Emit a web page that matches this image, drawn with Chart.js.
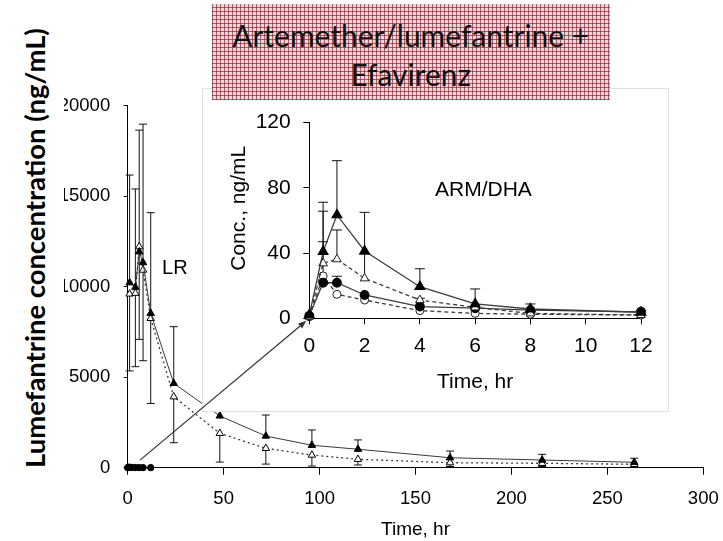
<!DOCTYPE html>
<html><head><meta charset="utf-8">
<script src="https://cdn.jsdelivr.net/npm/chart.js@4.4.1/dist/chart.umd.min.js"></script>
<style>
html,body{margin:0;padding:0;background:#fff;}
#wrap{position:relative;width:723px;height:541px;overflow:hidden;background:#fff;}
#wrap canvas{position:absolute;left:0;top:0;}
#mainC{z-index:1;} #insetC{z-index:2;}
#titleBox{position:absolute;left:211.5px;top:4px;width:398.5px;height:96px;z-index:5;
 background-color:#f1d6da;
 background-image:
  repeating-linear-gradient(0deg, rgba(165,25,50,0.7) 0 1px, transparent 1px 4px),
  repeating-linear-gradient(90deg, rgba(165,25,50,0.7) 0 1px, transparent 1px 4px);
 font-family:Lato,'Open Sans',sans-serif;color:#111;}
.tl{position:absolute;left:0;width:100%;text-align:center;white-space:nowrap;line-height:1;}
#yTitleBox{position:absolute;left:0;top:15px;width:64px;height:465px;background:#fff;z-index:5;}
#yTitle{position:absolute;left:35px;top:233px;white-space:nowrap;line-height:1;font-family:Lato,'Open Sans',sans-serif;font-weight:bold;color:#000;transform:translate(-50%,-50%) rotate(-90deg);}
</style></head>
<body>
<div id="wrap">
  <canvas id="mainC" width="723" height="541"></canvas>
  <canvas id="insetC" width="723" height="541"></canvas>
  <div id="titleBox"><div class="tl" id="tl1">Artemether/lumefantrine +</div><div class="tl" id="tl2">Efavirenz</div></div>
  <div id="yTitleBox"><div id="yTitle">Lumefantrine concentration (ng/mL)</div></div>
</div>
<script>
// ---------------- DATA ----------------
// Main panel: lumefantrine (LR), ng/mL
const lrTimes      = [1, 4, 6, 8, 12, 24, 48, 72, 96, 120, 168, 216, 264];
const lrFilled     = [10220, 9970, 11930, 11330, 8530, 4660, 2860, 1750, 1240, 1020, 550, 425, 300];
const lrFilledSD   = [5950, 5430, 6720, 7650, 5560, 3130, 1600, 1160, 845, 514, 370, 315, 221];
const lrOpen       = [9600, 9640, 12210, 10920, 8250, 3920, 1900, 1070, 700, 464, 276, 243, 188];
const lrOpenSD     = [4250, 4060, 5120, 5010, 4700, 2540, 1590, 870, 610, 315, 210, 177, 110];
const mainXTicks   = [0, 50, 100, 150, 200, 250, 300];
const mainYTicks   = [0, 5000, 10000, 15000, 20000];
// Inset: ARM/DHA, ng/mL
const armTimes       = [0, 0.5, 1, 2, 4, 6, 8, 12];
const armTriFilled   = [2, 40.9, 63.4, 41.3, 19.4, 8.8, 5.7, 3.7];
const armTriFilledSD = [0, 30.3, 33.3, 23.7, 11.0, 9.2, 3.1, 1.0];
const armTriOpen     = [1, 33.7, 36.2, 24.5, 11.2, 6.7, 3.0, 2.0];
const armTriOpenSD   = [0, 32.0, 18.0, 15.0, 1.1, 0, 0, 0];
const armCirFilled   = [1.5, 21.8, 21.8, 14.3, 7.2, 6.2, 5.0, 4.0];
const armCirFilledSD = [0, 0, 4.0, 0, 0, 0, 0, 0];
const armCirOpen     = [1, 26.0, 14.7, 11.2, 4.7, 3.0, 2.5, 2.0];
const armCirOpenSD   = [0, 21.0, 0, 0, 0, 0, 0, 0];
const insetXTicks    = [0, 2, 4, 6, 8, 10, 12];
const insetYTicks    = [0, 40, 80, 120];
// annotation anchors (data units)
const lrLabelAt    = {x: 24.6, y: 11030};
const armLabelAt   = {x: 6.3, y: 78.7};
const arrowFrom    = {x: 6.4, y: 420};

const pts = (xs, ys) => xs.map((x, i) => ({x, y: ys[i]}));
const AX = "'Liberation Sans', Arial, sans-serif";

// fit title fonts
(function(){
  const c = document.createElement('canvas').getContext('2d');
  c.font = "100px Lato"; const w1 = c.measureText('Artemether/lumefantrine +').width;
  const fs = 100 * 357 / w1;
  const t1 = document.getElementById('tl1'), t2 = document.getElementById('tl2');
  t1.style.fontSize = t2.style.fontSize = fs + 'px';
  t1.style.top = (32.7 - fs*0.55) + 'px';
  t2.style.top = (71 - fs*0.55) + 'px';
  c.font = "bold 100px Lato"; const w2 = c.measureText('Lumefantrine concentration (ng/mL)').width;
  document.getElementById('yTitle').style.fontSize = (100 * 440 / w2) + 'px';
})();

const errorBars = {
  id: 'errorBars',
  beforeDatasetsDraw(chart) {
    const {ctx} = chart; const x = chart.scales.x, y = chart.scales.y;
    chart.data.datasets.forEach((ds) => {
      if (!ds.errVals) return;
      ctx.save(); ctx.strokeStyle = '#111'; ctx.lineWidth = 1; ctx.setLineDash([]);
      ds.data.forEach((p, j) => {
        const e = ds.errVals[j]; if (!e) return;
        const px = x.getPixelForValue(p.x), p0 = y.getPixelForValue(p.y);
        const p1 = y.getPixelForValue(ds.errDir === 'down' ? p.y - e : p.y + e);
        ctx.beginPath(); ctx.moveTo(px, p0); ctx.lineTo(px, p1);
        ctx.moveTo(px - ds.capHalf, p1); ctx.lineTo(px + ds.capHalf, p1); ctx.stroke();
      });
      ctx.restore();
    });
  }
};

function axisCommon(fontSize, tickLen, pad, ticksArr) {
  return {
    type: 'linear',
    min: ticksArr[0], max: ticksArr[ticksArr.length-1],
    afterBuildTicks: s => { s.ticks = ticksArr.map(v => ({value: v})); },
    ticks: {color: '#000', font: {family: AX, size: fontSize}, padding: pad, maxRotation: 0, autoSkip: false,
            callback: v => String(v)},
    grid: {display: true, drawOnChartArea: false, drawTicks: true, tickLength: tickLen, color: '#000', lineWidth: 1},
    border: {display: true, color: '#000', width: 1}
  };
}

// ---------------- MAIN CHART ----------------
const mainLabels = {
  id: 'mainLabels',
  afterDraw(chart) {
    const {ctx} = chart; const x = chart.scales.x, y = chart.scales.y;
    ctx.save(); ctx.fillStyle = '#000'; ctx.font = "20px " + AX;
    ctx.textAlign = 'center'; ctx.textBaseline = 'middle';
    ctx.fillText('LR', x.getPixelForValue(lrLabelAt.x), y.getPixelForValue(lrLabelAt.y));
    ctx.restore();
  }
};
const mx = axisCommon(18.5, 7, 13, mainXTicks);
mx.afterFit = s => { s.height = 73.3; s.paddingLeft = 0; s.paddingRight = 0; };
mx.title = {display: true, text: 'Time, hr', color: '#000', font: {family: AX, size: 19}, padding: {top: 0, bottom: 0}};
const my = axisCommon(18.5, 4, 13.5, mainYTicks);
my.afterFit = s => { s.width = 127.7; s.paddingTop = 0; s.paddingBottom = 0; };

const mainChart = new Chart(document.getElementById('mainC'), {
  type: 'scatter',
  data: { datasets: [
    {data: pts(lrTimes, lrFilled), showLine: true, borderColor: '#3a3a3a', borderWidth: 1,
     pointStyle: 'triangle', pointRadius: 4.3, pointBackgroundColor: '#000', pointBorderColor: '#000', pointBorderWidth: 1,
     errVals: lrFilledSD, errDir: 'up', capHalf: 4, clip: false},
    {data: pts(lrTimes, lrOpen), showLine: true, borderColor: '#3a3a3a', borderWidth: 1.3, borderDash: [2, 3],
     pointStyle: 'triangle', pointRadius: 4.3, pointBackgroundColor: '#fff', pointBorderColor: '#000', pointBorderWidth: 1,
     errVals: lrOpenSD, errDir: 'down', capHalf: 4, clip: false},
    {data: pts(armTimes, armCirFilled), showLine: false,
     pointStyle: 'circle', pointRadius: 3.2, pointBackgroundColor: '#000', pointBorderColor: '#000', clip: false}
  ]},
  options: {
    responsive: false, animation: false, devicePixelRatio: 1, events: [],
    layout: {padding: {left: 0, right: 19.7, top: 105.7, bottom: 0}},
    plugins: {legend: {display: false}, tooltip: {enabled: false}},
    scales: {x: mx, y: my}
  },
  plugins: [errorBars, mainLabels]
});

// ---------------- INSET CHART ----------------
const insetDecor = {
  id: 'insetDecor',
  beforeDraw(chart) {
    const {ctx} = chart;
    ctx.save(); ctx.fillStyle = '#fff'; ctx.fillRect(202, 88, 466, 323);
    ctx.strokeStyle = '#e2e2e2'; ctx.lineWidth = 1; ctx.strokeRect(202.5, 88.5, 466, 323);
    ctx.restore();
  },
  afterDraw(chart) {
    const {ctx, chartArea} = chart; const x = chart.scales.x, y = chart.scales.y;
    ctx.save(); ctx.fillStyle = '#000';
    ctx.font = "21px " + AX; ctx.textAlign = 'center'; ctx.textBaseline = 'middle';
    ctx.fillText('ARM/DHA', x.getPixelForValue(armLabelAt.x), y.getPixelForValue(armLabelAt.y));
    ctx.translate(chartArea.left - 70.5, y.getPixelForValue(67.5)); ctx.rotate(-Math.PI/2);
    ctx.fillText('Conc., ng/mL', 0, 0);
    ctx.restore();
    // arrow from main-chart ARM cluster to inset origin
    const sx = mainChart.scales.x.getPixelForValue(arrowFrom.x), sy = mainChart.scales.y.getPixelForValue(arrowFrom.y);
    const ox = x.getPixelForValue(0), oy = y.getPixelForValue(0);
    const dx = ox - sx, dy = oy - sy, L = Math.hypot(dx, dy), ux = dx / L, uy = dy / L;
    const ex = ox - ux * 4, ey = oy - uy * 4;
    ctx.save(); ctx.strokeStyle = '#333'; ctx.fillStyle = '#333'; ctx.lineWidth = 1.2;
    ctx.beginPath(); ctx.moveTo(sx, sy); ctx.lineTo(ex - ux * 6, ey - uy * 6); ctx.stroke();
    ctx.beginPath(); ctx.moveTo(ex, ey);
    ctx.lineTo(ex - ux * 8 - uy * 3.2, ey - uy * 8 + ux * 3.2);
    ctx.lineTo(ex - ux * 8 + uy * 3.2, ey - uy * 8 - ux * 3.2);
    ctx.closePath(); ctx.fill();
    ctx.restore();
  }
};
const ix = axisCommon(21, 6, 9, insetXTicks);
ix.afterFit = s => { s.height = 222.7; s.paddingLeft = 0; s.paddingRight = 0; };
ix.title = {display: true, text: 'Time, hr', color: '#000', font: {family: AX, size: 21}, padding: {top: 0, bottom: 146.5}};
const iy = axisCommon(21, 6, 12.6, insetYTicks);
iy.afterFit = s => { s.width = 309.3; s.paddingTop = 0; s.paddingBottom = 0; };

const LC = '#3c3c3c';
new Chart(document.getElementById('insetC'), {
  type: 'scatter',
  data: { datasets: [
    {data: pts(armTimes, armTriFilled), showLine: true, borderColor: LC, borderWidth: 1.3,
     pointStyle: 'triangle', pointRadius: 5.5, pointBackgroundColor: '#000', pointBorderColor: '#000',
     errVals: armTriFilledSD, errDir: 'up', capHalf: 5, clip: false},
    {data: pts(armTimes, armTriOpen), showLine: true, borderColor: LC, borderWidth: 1.3, borderDash: [4, 3],
     pointStyle: 'triangle', pointRadius: 5, pointBackgroundColor: '#fff', pointBorderColor: '#222', pointBorderWidth: 1,
     errVals: armTriOpenSD, errDir: 'up', capHalf: 5, clip: false},
    {data: pts(armTimes, armCirFilled), showLine: true, borderColor: LC, borderWidth: 1.3,
     pointStyle: 'circle', pointRadius: 4.3, pointBackgroundColor: '#000', pointBorderColor: '#000',
     errVals: armCirFilledSD, errDir: 'up', capHalf: 5, clip: false},
    {data: pts(armTimes, armCirOpen), showLine: true, borderColor: LC, borderWidth: 1.3, borderDash: [4, 3],
     pointStyle: 'circle', pointRadius: 4, pointBackgroundColor: '#fff', pointBorderColor: '#222', pointBorderWidth: 1,
     errVals: armCirOpenSD, errDir: 'up', capHalf: 5, clip: false}
  ]},
  options: {
    responsive: false, animation: false, devicePixelRatio: 1, events: [],
    layout: {padding: {left: 0, right: 82, top: 122.7, bottom: 0}},
    plugins: {legend: {display: false}, tooltip: {enabled: false}},
    scales: {x: ix, y: iy}
  },
  plugins: [insetDecor, errorBars]
});
</script>
</body></html>
